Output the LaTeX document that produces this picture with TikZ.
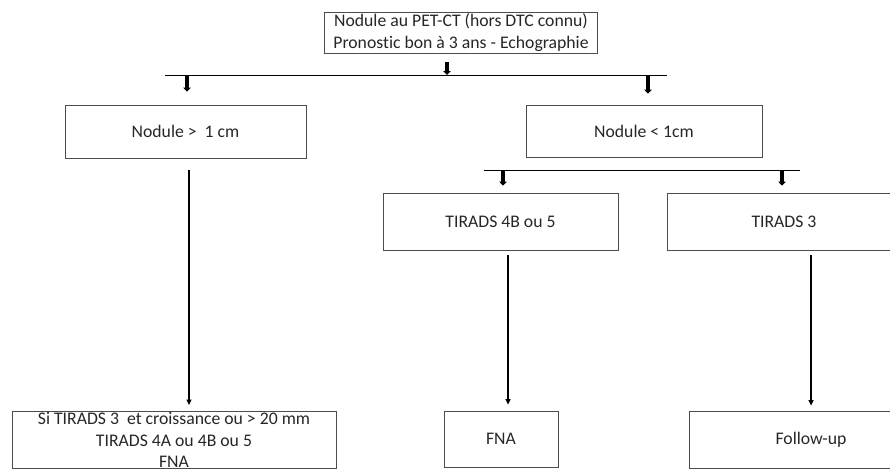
\documentclass[tikz,border=0pt]{standalone}
\usepackage{fontspec}
\setmainfont{Carlito}[Ligatures={NoCommon}]
\usepackage{tikz}
\usetikzlibrary{arrows.meta}

\begin{document}
\begin{tikzpicture}[x=1pt, y=-1pt,
	box/.style={draw=black!70, line width=0.8pt, align=center, text=black!85, inner sep=1pt, font=\fontsize{17.7}{21.5}\selectfont},
	fat/.style={line width=3.2pt, -{Triangle[length=4pt,width=7.5pt]}},
	longarrow/.style={line width=1.2pt, -{Triangle[length=5.5pt,width=5pt]}}]
\path[use as bounding box, clip] (0,0) rectangle (890,472);

\node[box, minimum width=273, minimum height=41] (top) at (461,32.5) {Nodule au PET-CT (hors DTC connu)\\Pronostic bon à 3 ans - Echographie};
\node[box, minimum width=241, minimum height=53] (big) at (185.5,131.5) {Nodule >~ 1 cm};
\node[box, minimum width=236, minimum height=52] (small) at (644,131) {Nodule < 1cm};
\node[box, minimum width=235, minimum height=57] (tirB) at (500.5,221.5) {TIRADS 4B ou 5};
\node[box, minimum width=234, minimum height=57] (tirC) at (784,221.5) {TIRADS 3};
\node[box, minimum width=324, anchor=north] (fnaL) at (174,411) {Si TIRADS 3~ et croissance ou > 20 mm\\TIRADS 4A ou 4B ou 5\\FNA};
\node[box, minimum width=114, minimum height=56] (fna) at (501,439) {FNA};
\node[box, minimum width=244, minimum height=57] (fup) at (811,439.5) {Follow-up};

\coordinate (barL) at (165,75);
\coordinate (barR) at (667,75);
\coordinate (bar2L) at (484,170);
\coordinate (bar2R) at (800,170);
\draw[line width=1pt] (barL) -- (barR);
\draw[line width=1pt] (bar2L) -- (bar2R);

\draw[fat] ([xshift=-14pt,yshift=-9pt]top.south) -- ([xshift=-14pt]top.south |- barL);
\draw[fat] ([xshift=1.5pt]big.north |- barL) -- ([xshift=1.5pt,yshift=13pt]big.north);
\draw[fat] ([xshift=4pt]small.north |- barL) -- ([xshift=4pt,yshift=11pt]small.north);
\draw[fat] ([xshift=2.5pt]tirB.north |- bar2L) -- ([xshift=2.5pt,yshift=7pt]tirB.north);
\draw[fat] ([xshift=-2pt]tirC.north |- bar2L) -- ([xshift=-2pt,yshift=7pt]tirC.north);

\draw[longarrow] ([xshift=3.5pt,yshift=-12pt]big.south) -- ([xshift=15pt,yshift=6pt]fnaL.north);
\draw[longarrow] ([xshift=7.5pt,yshift=-5pt]tirB.south) -- ([xshift=7pt,yshift=6pt]fna.north);
\draw[longarrow] ([xshift=27pt,yshift=-5pt]tirC.south) -- ([yshift=5pt]fup.north);
\end{tikzpicture}
\end{document}
